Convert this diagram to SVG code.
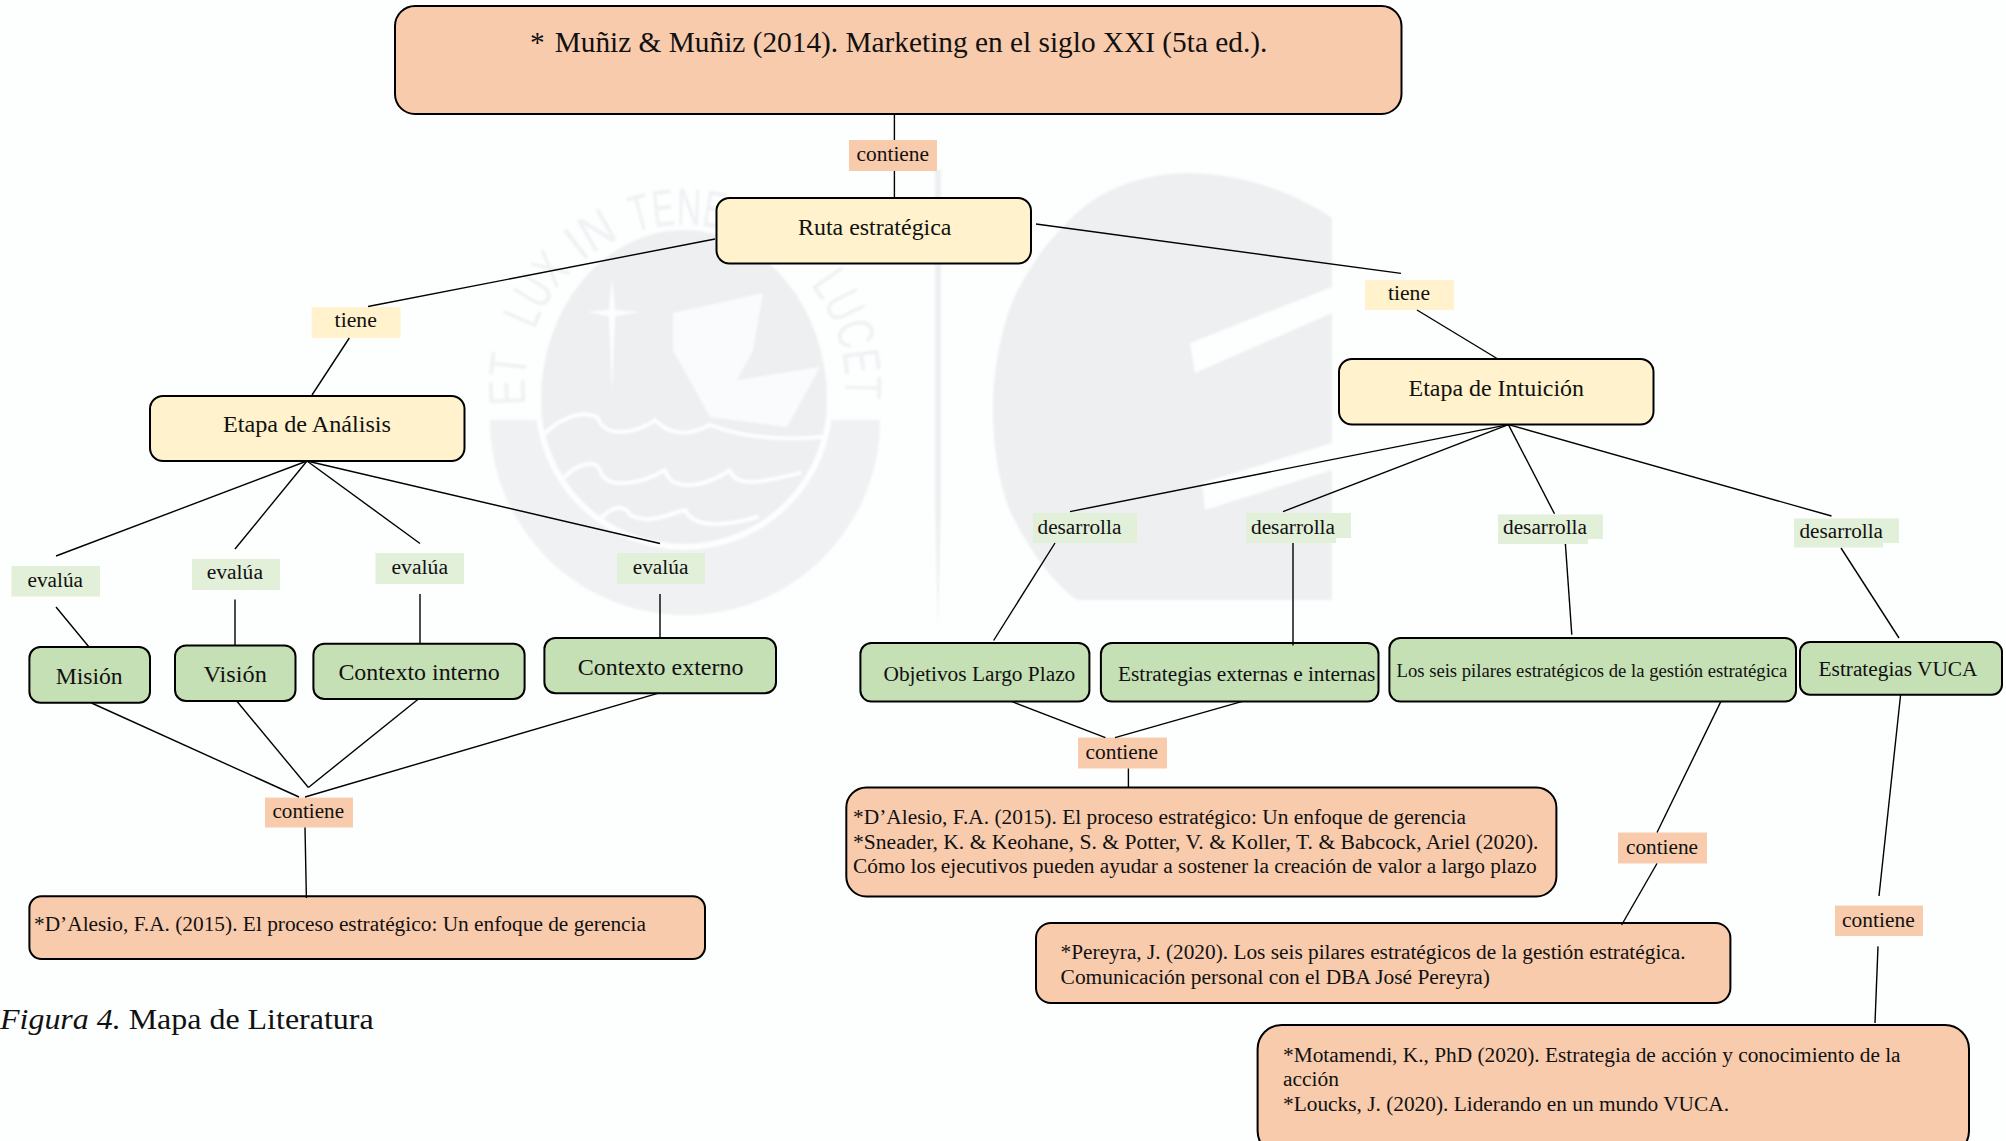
<svg xmlns="http://www.w3.org/2000/svg" width="2006" height="1141" viewBox="0 0 2006 1141">
<defs>
<style>
text{font-family:"Liberation Serif","Times New Roman",serif;fill:#111;font-size:21.3px;white-space:pre}
.n{stroke:#000;stroke-width:2}
.o{fill:#F8CBAD}.y{fill:#FFF2CC}.g{fill:#C5E0B4}.lg{fill:#E2EFD9}
.big{font-size:24px}.ti{font-size:29.33px}.sm{font-size:18px}.fig{font-size:30px}
.wm{fill:#EDEFF1}.wl{fill:none;stroke:#FDFEFE;stroke-linecap:round;stroke-linejoin:round}
.rt{font-family:"Liberation Sans",sans-serif;font-size:52px;fill:#EFF1F3}
#connectors line{stroke:#000;stroke-width:1.4}
</style>
<filter id="soft" x="-5%" y="-5%" width="110%" height="110%"><feGaussianBlur stdDeviation="1.3"/></filter>
<path id="ring" d="M526 405A160.25 160.25 0 1 1 844 405"/>
</defs>
<rect width="2006" height="1141" fill="#FDFEFE"/>
<g id="watermark" filter="url(#soft)">
<path d="M490 420H880A195 195 0 0 1 490 420Z" fill="#EFF1F3"/>
<path d="M538 400A146 173 0 0 1 830 400A146 147 0 0 1 538 400Z" stroke="#FDFEFE" stroke-width="6" fill="#EDEFF1"/>
<text class="rt" textLength="50" lengthAdjust="spacingAndGlyphs"><textPath href="#ring" startOffset="0">ET</textPath></text>
<text class="rt" textLength="70" lengthAdjust="spacingAndGlyphs"><textPath href="#ring" startOffset="76">LUX</textPath></text>
<text class="rt" textLength="45" lengthAdjust="spacingAndGlyphs"><textPath href="#ring" startOffset="160">IN</textPath></text>
<text class="rt" textLength="90" lengthAdjust="spacingAndGlyphs"><textPath href="#ring" startOffset="220">TENE</textPath></text>
<text class="rt" textLength="122" lengthAdjust="spacingAndGlyphs"><textPath href="#ring" startOffset="415">LUCET</textPath></text>
<path d="M673 313L763 293L753 350L737 380L820 367L787 427L710 417L673 350Z" fill="#FAFBFC"/>
<path d="M612 277L615 310L640 312L615 316L612 392L609 316L587 312L609 310Z" fill="#FDFEFE"/>
<path class="wl" stroke-width="4" d="M545 433C565 415 585 410 598 418C605 440 640 432 655 420C665 430 680 440 710 425C750 440 790 440 823 437M563 478C580 462 595 460 600 470C605 490 640 485 665 470C670 490 700 490 730 470C735 490 770 480 800 473M602 517C615 505 625 505 630 515C650 525 665 515 685 510C695 530 730 525 757 517"/>
<path class="wm" d="M1332 218C1290 190 1240 174 1190 173C1150 173 1110 185 1080 210C1040 245 1015 290 1007 317C997 350 993 380 993 410C993 450 1000 490 1013 517C1030 550 1050 580 1077 600H1332Z"/>
<path fill="#FDFEFE" d="M1190 343L1332 287V313L1195 373ZM1202 483L1332 443V470L1205 510Z"/>
<path class="wm" d="M935 170H941V500L938 630L935 500Z"/>
</g>
<g id="top-source"><rect class="n o" x="395" y="6" width="1006.5" height="108" rx="20"/><text class="ti" x="530" y="52">* <tspan x="554.7">Muñiz &amp; Muñiz (2014). Marketing en el siglo XXI (5ta ed.).</tspan></text></g>
<g id="ruta"><rect class="n y" x="716.5" y="198" width="314.5" height="65.5" rx="13"/><text class="big" x="798" y="234.5" textLength="153.5" lengthAdjust="spacingAndGlyphs">Ruta estratégica</text></g>
<g id="etapa-analisis"><rect class="n y" x="150" y="396" width="314.5" height="65" rx="13"/><text class="big" x="223" y="432" textLength="168" lengthAdjust="spacingAndGlyphs">Etapa de Análisis</text></g>
<g id="etapa-intuicion"><rect class="n y" x="1339" y="359" width="314.5" height="65.5" rx="13"/><text class="big" x="1408.6" y="395.6" textLength="175.4" lengthAdjust="spacingAndGlyphs">Etapa de Intuición</text></g>
<g id="mision"><rect class="n g" x="29.4" y="647" width="120.6" height="55.7" rx="11"/><text class="big" x="55.7" y="683.5" textLength="67" lengthAdjust="spacingAndGlyphs">Misión</text></g>
<g id="vision"><rect class="n g" x="175" y="645.6" width="120.5" height="55.4" rx="11"/><text class="big" x="203.5" y="681.6" textLength="63.3" lengthAdjust="spacingAndGlyphs">Visión</text></g>
<g id="contexto-interno"><rect class="n g" x="313.4" y="643.8" width="211.2" height="55.2" rx="11"/><text class="big" x="338.4" y="679.8" textLength="161.3" lengthAdjust="spacingAndGlyphs">Contexto interno</text></g>
<g id="contexto-externo"><rect class="n g" x="544.4" y="638" width="231.6" height="55.3" rx="11"/><text class="big" x="577.7" y="674.5" textLength="165.7" lengthAdjust="spacingAndGlyphs">Contexto externo</text></g>
<g id="objetivos"><rect class="n g" x="860.4" y="643" width="229" height="58.6" rx="11"/><text x="883.5" y="680.5" textLength="191.8" lengthAdjust="spacingAndGlyphs">Objetivos Largo Plazo</text></g>
<g id="estrategias"><rect class="n g" x="1100.9" y="643" width="277.6" height="58.6" rx="11"/><text x="1118" y="680.5" textLength="257.4" lengthAdjust="spacingAndGlyphs">Estrategias externas e internas</text></g>
<g id="seis-pilares"><rect class="n g" x="1389.4" y="638" width="406.6" height="63.6" rx="11"/><text class="sm" x="1396.5" y="677.3" textLength="390.9" lengthAdjust="spacingAndGlyphs">Los seis pilares estratégicos de la gestión estratégica</text></g>
<g id="vuca"><rect class="n g" x="1800" y="642" width="202" height="52.7" rx="10"/><text x="1818.6" y="675.8" textLength="158.8" lengthAdjust="spacingAndGlyphs">Estrategias VUCA</text></g>
<g id="ref-analisis"><rect class="n o" x="29.4" y="896.3" width="675.6" height="62.7" rx="12"/><text x="34" y="930.7" textLength="612" lengthAdjust="spacingAndGlyphs">*D’Alesio, F.A. (2015). El proceso estratégico: Un enfoque de gerencia</text></g>
<g id="ref-objetivos"><rect class="n o" x="846.3" y="787.5" width="710.1" height="109" rx="20"/><text x="853" y="823.5" textLength="613" lengthAdjust="spacingAndGlyphs">*D’Alesio, F.A. (2015). El proceso estratégico: Un enfoque de gerencia</text><text x="853" y="849" textLength="685.5" lengthAdjust="spacingAndGlyphs">*Sneader, K. &amp; Keohane, S. &amp; Potter, V. &amp; Koller, T. &amp; Babcock, Ariel (2020).</text><text x="853" y="873" textLength="683.6" lengthAdjust="spacingAndGlyphs">Cómo los ejecutivos pueden ayudar a sostener la creación de valor a largo plazo</text></g>
<g id="ref-pilares"><rect class="n o" x="1036" y="923" width="694.4" height="80" rx="15"/><text x="1060.6" y="959" textLength="625" lengthAdjust="spacingAndGlyphs">*Pereyra, J. (2020). Los seis pilares estratégicos de la gestión estratégica.</text><text x="1060.6" y="984" textLength="429.4" lengthAdjust="spacingAndGlyphs">Comunicación personal con el DBA José Pereyra)</text></g>
<g id="ref-vuca"><rect class="n o" x="1257.6" y="1025" width="711.4" height="130" rx="24"/><text x="1283" y="1062" textLength="617.6" lengthAdjust="spacingAndGlyphs">*Motamendi, K., PhD (2020). Estrategia de acción y conocimiento de la</text><text x="1283" y="1086" textLength="56" lengthAdjust="spacingAndGlyphs">acción</text><text x="1283" y="1111" textLength="446" lengthAdjust="spacingAndGlyphs">*Loucks, J. (2020). Liderando en un mundo VUCA.</text></g>
<g id="label-contiene-1"><rect class="o" x="849" y="140" width="88" height="31"/><text x="856.6" y="160.7" textLength="72.4" lengthAdjust="spacingAndGlyphs">contiene</text></g>
<g id="label-tiene-l"><rect class="y" x="311.6" y="307" width="88.9" height="31"/><text x="334.6" y="327" textLength="42.2" lengthAdjust="spacingAndGlyphs">tiene</text></g>
<g id="label-tiene-r"><rect class="y" x="1365" y="280" width="89" height="30"/><text x="1388" y="300" textLength="42" lengthAdjust="spacingAndGlyphs">tiene</text></g>
<g id="label-evalua-1"><rect class="lg" x="11.5" y="566" width="88.5" height="30.5"/><text x="27.5" y="586.7" textLength="55.5" lengthAdjust="spacingAndGlyphs">evalúa</text></g>
<g id="label-evalua-2"><rect class="lg" x="192" y="559" width="88" height="31"/><text x="206.7" y="579.4" textLength="56.3" lengthAdjust="spacingAndGlyphs">evalúa</text></g>
<g id="label-evalua-3"><rect class="lg" x="375.5" y="553" width="88.5" height="31"/><text x="391.5" y="573.6" textLength="56.5" lengthAdjust="spacingAndGlyphs">evalúa</text></g>
<g id="label-evalua-4"><rect class="lg" x="617" y="553" width="88" height="31"/><text x="632.7" y="573.6" textLength="55.7" lengthAdjust="spacingAndGlyphs">evalúa</text></g>
<g id="label-desarrolla-1"><rect class="lg" x="1033" y="513" width="104" height="30"/><text x="1037.5" y="533.5" textLength="83.9" lengthAdjust="spacingAndGlyphs">desarrolla</text></g>
<g id="label-desarrolla-2"><path class="lg" d="M1246 513H1351V538H1336V543H1246Z"/><text x="1251" y="533.5" textLength="84" lengthAdjust="spacingAndGlyphs">desarrolla</text></g>
<g id="label-desarrolla-3"><path class="lg" d="M1498 514.5H1603V539H1588V544H1498Z"/><text x="1503" y="533.5" textLength="84" lengthAdjust="spacingAndGlyphs">desarrolla</text></g>
<g id="label-desarrolla-4"><path class="lg" d="M1794 518.5H1899V543H1883V547.6H1794Z"/><text x="1799.5" y="537.5" textLength="83.5" lengthAdjust="spacingAndGlyphs">desarrolla</text></g>
<g id="label-contiene-2"><rect class="o" x="265" y="797.6" width="88" height="29.9"/><text x="272.5" y="818" textLength="71.5" lengthAdjust="spacingAndGlyphs">contiene</text></g>
<g id="label-contiene-3"><rect class="o" x="1078" y="737.6" width="89" height="30.9"/><text x="1085.5" y="759" textLength="72.5" lengthAdjust="spacingAndGlyphs">contiene</text></g>
<g id="label-contiene-4"><rect class="o" x="1618" y="832.5" width="89" height="31"/><text x="1626" y="854.4" textLength="72" lengthAdjust="spacingAndGlyphs">contiene</text></g>
<g id="label-contiene-5"><rect class="o" x="1835" y="905.6" width="88" height="30.4"/><text x="1842" y="927" textLength="72.7" lengthAdjust="spacingAndGlyphs">contiene</text></g>
<g id="caption"><text class="fig" x="0" y="1029" textLength="373.6" lengthAdjust="spacingAndGlyphs"><tspan font-style="italic">Figura 4.</tspan> Mapa de Literatura</text></g>
<g id="connectors">
<line x1="894.4" y1="114" x2="894.4" y2="140"/><line x1="894.4" y1="171" x2="894.4" y2="198"/>
<line x1="715" y1="239" x2="368" y2="306.5"/><line x1="349.3" y1="338" x2="312" y2="395"/>
<line x1="1036" y1="224" x2="1401" y2="273.4"/><line x1="1417" y1="310" x2="1497" y2="358.5"/>
<line x1="307" y1="461" x2="56" y2="556"/><line x1="307" y1="461" x2="235" y2="549"/><line x1="307" y1="461" x2="420" y2="543.5"/><line x1="307" y1="461" x2="660" y2="543.5"/>
<line x1="56" y1="607" x2="89" y2="647"/><line x1="235" y1="599.5" x2="235" y2="645.6"/><line x1="420" y1="594" x2="420" y2="644"/><line x1="660" y1="594" x2="660" y2="637.6"/>
<line x1="91.5" y1="703" x2="299" y2="797"/><line x1="236.7" y1="701" x2="308.4" y2="787.5"/><line x1="418.4" y1="699" x2="308.4" y2="787.5"/><line x1="657.7" y1="693.3" x2="305" y2="797"/>
<line x1="305" y1="827.5" x2="306.4" y2="898"/>
<line x1="1508.4" y1="424.6" x2="1070" y2="511.6"/><line x1="1508.4" y1="424.6" x2="1283" y2="511.6"/><line x1="1508.4" y1="424.6" x2="1554.5" y2="513.8"/><line x1="1508.4" y1="424.6" x2="1831.5" y2="516"/>
<line x1="1055" y1="543" x2="993.6" y2="640.5"/><line x1="1293" y1="543" x2="1293" y2="645.6"/><line x1="1565.4" y1="544" x2="1571.8" y2="634.7"/><line x1="1841" y1="548" x2="1899" y2="638"/>
<line x1="1012" y1="701.6" x2="1105.4" y2="737.6"/><line x1="1241.6" y1="701.6" x2="1115" y2="737.6"/><line x1="1128.4" y1="768.5" x2="1128.4" y2="787.5"/>
<line x1="1720.8" y1="701.6" x2="1657" y2="832.5"/><line x1="1657" y1="863.5" x2="1621.6" y2="925"/>
<line x1="1900.6" y1="694.7" x2="1879" y2="896"/><line x1="1878" y1="946.4" x2="1875" y2="1023"/>
</g>
</svg>
